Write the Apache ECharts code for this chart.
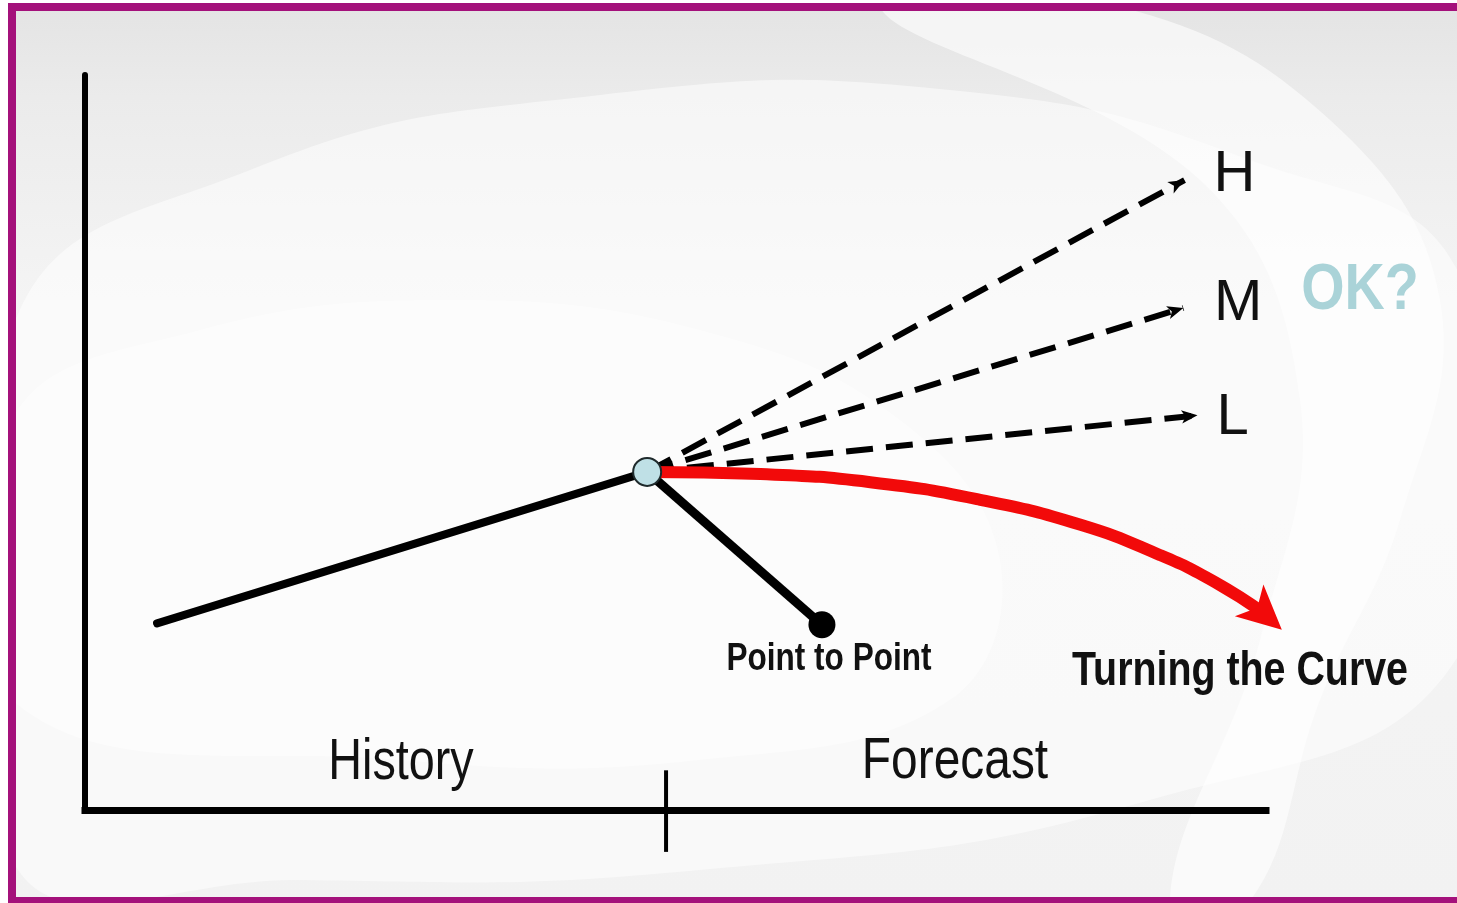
<!DOCTYPE html>
<html>
<head>
<meta charset="utf-8">
<title>Forecasting: Point to Point vs Turning the Curve</title>
<script src="https://cdn.jsdelivr.net/npm/echarts@6/dist/echarts.min.js"></script>
<style>
  html, body { margin: 0; padding: 0; background: #ffffff; }
  #chart { width: 1457px; height: 903px; }
</style>
</head>
<body>
<div id="chart"></div>
<script>
// ---- values (axis units: 0..100 on both axes) ----
const historyLine   = [[6.1, 25.4], [47.6, 46.0]];       // past trend up to today
const pivot         = [47.6, 46.0];                       // "today"
const pointToPoint  = [[47.6, 46.0], [62.4, 25.2]];       // single-point forecast
const scenarioNames = ['H', 'M', 'L'];
const scenarioEnds  = [[93.1, 85.7], [93.0, 68.3], [94.2, 53.7]];
const turningCurve  = [[47.6, 46.0], [57.2, 45.7], [66.5, 44.6], [75.8, 42.2],
                       [84.3, 38.8], [91.0, 34.7], [95.7, 31.0], [99.9, 26.7]];
const dividerX      = 49.2;                               // history / forecast split
const dividerSpan   = [5.4, -5.7];
const regionNames   = ['History', 'Forecast'];

// label placement after each scenario arrow (px, along / across)
const scenarioLabelGap = [[33, 10], [32, 14], [19, -30]];

// condensed look: regular face squeezed horizontally
const SANS = '"Liberation Sans", Arial, sans-serif';
const SQUEEZE = 0.82;

const chart = echarts.init(document.getElementById('chart'), null, { renderer: 'canvas' });

const lastCurve = turningCurve.length - 1;

function caption(text, x, y, font, fill, squeeze) {
  return {
    type: 'text', z: 50, silent: true, x: x, y: y, scaleX: squeeze, scaleY: 1,
    style: { text: text, font: font, fill: fill,
             textAlign: 'center', textVerticalAlign: 'middle', align: 'center', verticalAlign: 'middle' }
  };
}

const option = {
  animation: false,
  tooltip: { show: false },
  grid: { left: 85, top: 75, width: 1181, height: 735, outerBoundsMode: 'none', containLabel: false },
  xAxis: {
    type: 'value', min: 0, max: 100,
    axisLine: { show: true, lineStyle: { color: '#000', width: 7, cap: 'square' } },
    axisTick: { show: false }, axisLabel: { show: false }, splitLine: { show: false }
  },
  yAxis: {
    type: 'value', min: 0, max: 100,
    axisLine: { show: true, lineStyle: { color: '#000', width: 6 } },
    axisTick: { show: false }, axisLabel: { show: false }, splitLine: { show: false }
  },
  graphic: [
    // backdrop
    { type: 'rect', z: -20, silent: true, shape: { x: 0, y: 0, width: 1457, height: 903 }, style: { fill: '#ffffff' } },
    { type: 'rect', z: -19, silent: true, shape: { x: 12, y: 7, width: 1450, height: 894 },
      style: { fill: new echarts.graphic.LinearGradient(0, 0, 0, 1, [
        { offset: 0, color: '#e4e4e4' }, { offset: 0.1, color: '#ebebeb' },
        { offset: 0.35, color: '#f5f5f5' }, { offset: 1, color: '#f2f2f2' }]) } },
    { type: 'polygon', z: -18, silent: true,
      shape: { smooth: 0.45, points: [[12, 330], [250, 170], [600, 95], [950, 90], [1250, 160], [1462, 280],
                                       [1462, 650], [1150, 800], [700, 870], [300, 880], [12, 860]] },
      style: { fill: '#ffffff', opacity: 0.5 } },
    { type: 'polygon', z: -17, silent: true,
      shape: { smooth: 0.4, points: [[880, 7], [1120, 7], [1330, 120], [1440, 300], [1400, 520], [1320, 700],
                                     [1250, 901], [1170, 901], [1260, 640], [1300, 400], [1200, 180]] },
      style: { fill: '#ffffff', opacity: 0.6 } },
    { type: 'polygon', z: -17, silent: true,
      shape: { smooth: 0.4, points: [[12, 420], [200, 330], [450, 300], [700, 330], [900, 420], [1000, 560],
                                     [950, 700], [700, 760], [400, 760], [12, 700]] },
      style: { fill: '#ffffff', opacity: 0.45 } },
    // frame
    { type: 'rect', z: 100, silent: true, shape: { x: 12, y: 7, width: 1460, height: 894 },
      style: { fill: 'none', stroke: '#a4117b', lineWidth: 8 } },
    // captions
    caption(regionNames[0], 401, 763, '57px ' + SANS, '#111', SQUEEZE),
    caption(regionNames[1], 955, 762, '57px ' + SANS, '#111', 0.84),
    caption('OK?', 1360, 291, 'bold 64px ' + SANS, '#aad3d8', 0.87),
    caption('Point to Point', 829, 660, 'bold 38px ' + SANS, '#111', 0.83),
    caption('Turning the Curve', 1240, 672, 'bold 48px ' + SANS, '#111', SQUEEZE)
  ],
  series: [
    {
      name: 'Scenarios', type: 'line', silent: true, z: 3,
      data: [pivot], symbol: 'none', lineStyle: { width: 0 },
      markLine: {
        silent: true, animation: false,
        symbol: ['none', 'arrow'], symbolSize: [10, 16],
        lineStyle: { type: [27, 13], width: 6, color: '#000' },
        label: {
          show: true, position: 'end', formatter: '{b}',
          fontSize: 58, fontFamily: SANS, color: '#111'
        },
        emphasis: { disabled: true },
        data: scenarioNames.map((n, i) => [
          { coord: pivot, name: n },
          { coord: scenarioEnds[i], label: { distance: scenarioLabelGap[i] } }
        ])
      }
    },
    {
      name: 'History', type: 'line', silent: true, z: 4,
      data: historyLine, symbol: 'none',
      lineStyle: { color: '#000', width: 8, cap: 'round' }
    },
    {
      name: 'Point to Point', type: 'line', silent: true, z: 4,
      symbol: 'circle', symbolSize: 27,
      itemStyle: { color: '#000' },
      lineStyle: { color: '#000', width: 9 },
      data: pointToPoint.map((p, i) => i === pointToPoint.length - 1 ? { value: p } : { value: p, symbol: 'none' })
    },
    {
      name: 'Turning the Curve', type: 'line', silent: true, z: 5, clip: false,
      smooth: 0.5,
      symbol: 'arrow', symbolSize: [32, 44], symbolRotate: -132, symbolOffset: [17, 16],
      itemStyle: { color: '#f20a0a' },
      lineStyle: { color: '#f20a0a', width: 12 },
      data: turningCurve.map((p, i) => i === lastCurve ? { value: p } : { value: p, symbol: 'none' })
    },
    {
      name: 'Today', type: 'scatter', silent: true, z: 6,
      data: [pivot], symbolSize: 28,
      itemStyle: { color: '#bfe0e6', borderColor: '#1f2a2c', borderWidth: 2, opacity: 1 }
    },
    {
      name: 'Divider', type: 'line', silent: true, z: 4, clip: false,
      data: dividerSpan.map(y => [dividerX, y]), symbol: 'none',
      lineStyle: { color: '#000', width: 4 }
    }
  ]
};

chart.setOption(option);
</script>
</body>
</html>
